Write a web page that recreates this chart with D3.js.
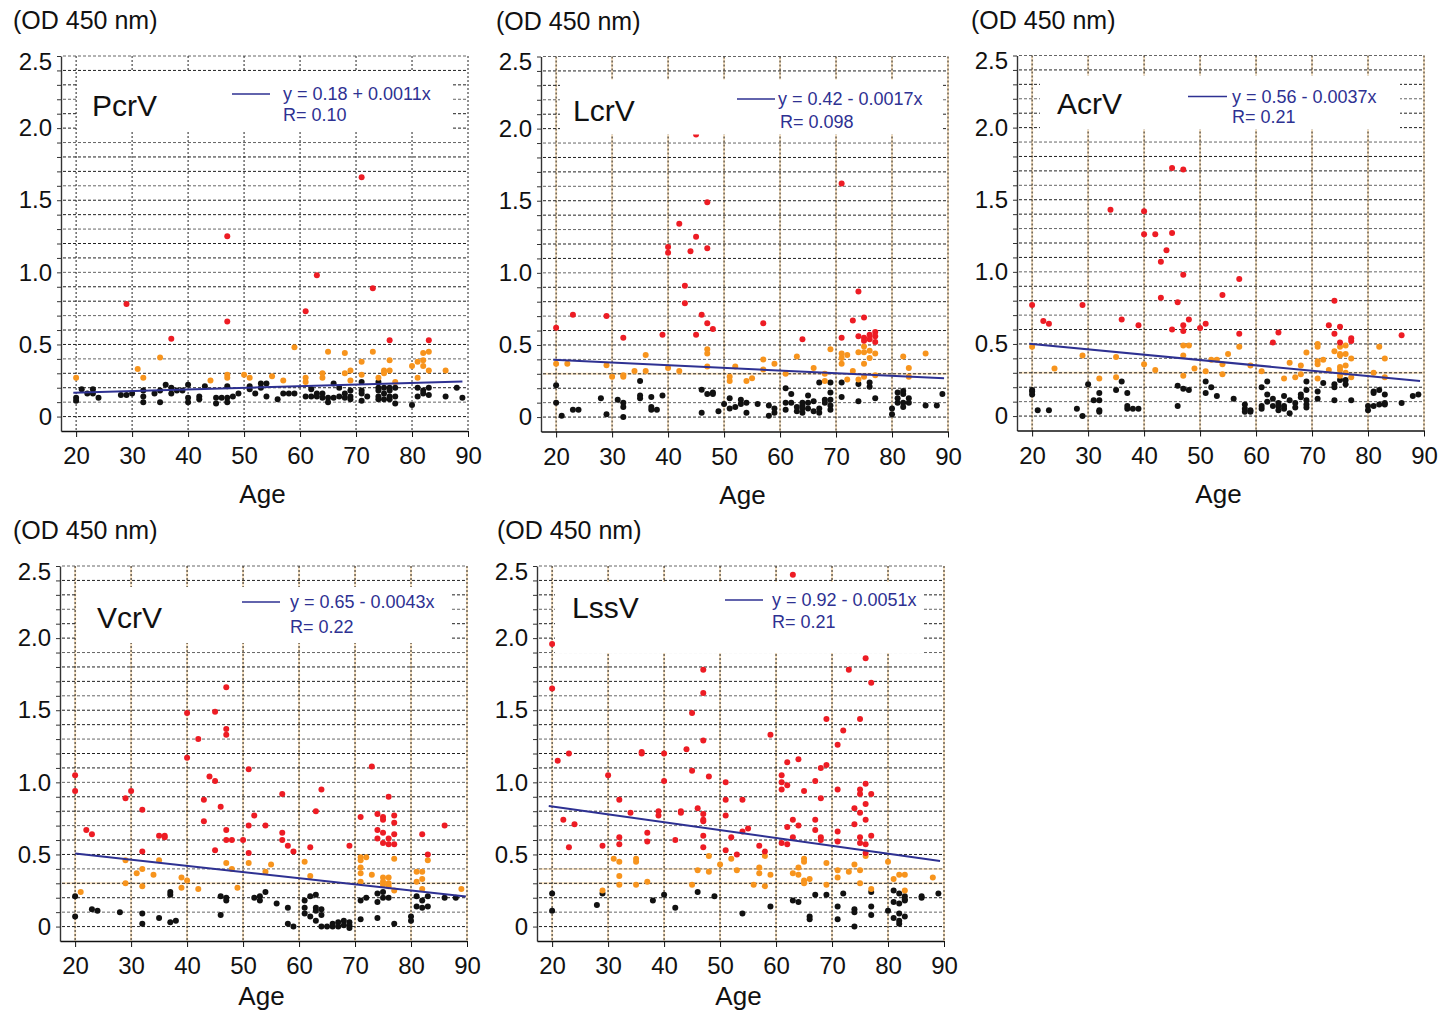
<!DOCTYPE html>
<html>
<head>
<meta charset="utf-8">
<script src="https://cdn.jsdelivr.net/npm/d3@7"></script>
<style>
  body { margin: 0; background: #fff; }
  text { font-family: "Liberation Sans", Arial, Helvetica, sans-serif; }
</style>
</head>
<body>
<svg id="chart" width="1449" height="1012"></svg>
<script>
// axis ticks
var ageTicks = [20, 30, 40, 50, 60, 70, 80, 90];
var odTicks = [0, 0.1, 0.2, 0.3, 0.4, 0.5, 0.6, 0.7, 0.8, 0.9, 1.0, 1.1, 1.2, 1.3, 1.4,
               1.5, 1.6, 1.7, 1.8, 1.9, 2.0, 2.1, 2.2, 2.3, 2.4, 2.5];
var odLabels = {0: '0', 0.5: '0.5', 1: '1.0', 1.5: '1.5', 2: '2.0', 2.5: '2.5'};

// PcrV  [age, OD]
var pcrvRed = [[29,0.78],[47,0.66],[37,0.54],[47,1.25],[71,1.66],[61,0.73],[63,0.98],[73,0.89],[76,0.53],[83,0.53]];
var pcrvOrange = [[20,0.27],[31,0.33],[32,0.27],[35,0.41],[44,0.25],[47,0.29],[47,0.27],[50,0.29],[51,0.27],[55,0.28],
  [57,0.25],[59,0.48],[61,0.27],[61,0.24],[64,0.30],[64,0.27],[65,0.45],[68,0.44],[68,0.30],[69,0.32],[69,0.25],
  [71,0.38],[71,0.29],[73,0.45],[74,0.27],[75,0.32],[75,0.30],[76,0.39],[76,0.32],[77,0.24],[80,0.35],[81,0.38],
  [81,0.27],[82,0.44],[82,0.39],[82,0.35],[83,0.45],[83,0.32],[86,0.32]];
var pcrvBlack = [[20,0.13],[20,0.11],[21,0.19],[22,0.16],[23,0.19],[23,0.16],[24,0.13],[28,0.15],[29,0.15],[30,0.16],
  [32,0.18],[32,0.14],[32,0.10],[34,0.16],[35,0.18],[35,0.10],[36,0.22],[37,0.20],[37,0.16],[38,0.18],[39,0.18],
  [40,0.22],[40,0.13],[40,0.10],[42,0.14],[42,0.12],[43,0.21],[45,0.13],[45,0.09],[46,0.13],[47,0.21],[47,0.13],
  [47,0.10],[48,0.14],[49,0.16],[51,0.21],[51,0.19],[52,0.16],[53,0.23],[53,0.20],[54,0.23],[54,0.14],[56,0.12],
  [57,0.16],[58,0.16],[59,0.16],[61,0.14],[62,0.19],[62,0.14],[63,0.16],[63,0.14],[64,0.16],[64,0.13],[65,0.13],
  [65,0.10],[66,0.23],[66,0.13],[67,0.20],[67,0.14],[68,0.16],[68,0.13],[69,0.18],[69,0.14],[69,0.12],[71,0.24],
  [71,0.18],[71,0.16],[71,0.11],[72,0.14],[74,0.24],[74,0.20],[74,0.18],[74,0.14],[74,0.12],[75,0.20],[75,0.16],
  [75,0.12],[76,0.20],[76,0.18],[76,0.14],[76,0.12],[77,0.20],[77,0.14],[77,0.09],[80,0.08],[81,0.20],[81,0.14],
  [82,0.18],[82,0.16],[83,0.20],[83,0.15],[86,0.14],[88,0.20],[89,0.13]];
var pcrvFit = [[19.5,0.165],[89,0.243]];

// LcrV
var lcrvRed = [[71,1.62],[47,1.49],[42,1.34],[45,1.25],[40,1.18],[40,1.14],[44,1.15],[47,1.17],[45,1.96],[43,0.91],
  [43,0.79],[29,0.70],[46,0.71],[47,0.65],[48,0.61],[57,0.65],[20,0.62],[23,0.71],[32,0.55],[39,0.57],[45,0.57],
  [64,0.54],[71,0.55],[73,0.67],[74,0.87],[74,0.56],[75,0.69],[75,0.55],[75,0.53],[76,0.57],[76,0.54],[77,0.59],
  [77,0.56],[77,0.52]];
var lcrvOrange = [[20,0.37],[22,0.37],[29,0.36],[30,0.28],[32,0.29],[32,0.28],[34,0.32],[36,0.43],[36,0.32],[40,0.34],
  [42,0.32],[47,0.47],[47,0.44],[47,0.35],[51,0.28],[51,0.25],[52,0.35],[54,0.25],[55,0.27],[57,0.40],[57,0.33],
  [59,0.37],[61,0.30],[63,0.42],[66,0.34],[68,0.30],[68,0.25],[69,0.47],[71,0.44],[71,0.41],[71,0.37],[72,0.43],
  [72,0.26],[73,0.32],[74,0.45],[74,0.26],[75,0.49],[75,0.45],[75,0.37],[75,0.28],[76,0.46],[76,0.41],[77,0.44],
  [77,0.29],[82,0.42],[83,0.34],[83,0.28],[86,0.44]];
var lcrvBlack = [[20,0.22],[20,0.10],[21,0.01],[23,0.05],[24,0.05],[28,0.13],[29,0.02],[31,0.12],[32,0.10],[32,0.07],
  [32,0.00],[35,0.25],[35,0.15],[35,0.13],[37,0.14],[37,0.07],[37,0.05],[38,0.05],[39,0.15],[46,0.19],[46,0.03],
  [47,0.16],[48,0.17],[48,0.16],[49,0.04],[50,0.09],[51,0.13],[51,0.06],[52,0.07],[53,0.12],[53,0.09],[54,0.10],
  [54,0.03],[56,0.09],[58,0.08],[58,0.01],[59,0.06],[59,0.03],[61,0.20],[61,0.10],[61,0.05],[62,0.16],[62,0.10],
  [63,0.07],[63,0.04],[64,0.10],[64,0.08],[64,0.06],[64,0.03],[65,0.15],[65,0.10],[65,0.06],[66,0.11],[66,0.04],
  [67,0.24],[67,0.06],[67,0.03],[68,0.12],[68,0.10],[69,0.24],[69,0.17],[69,0.12],[69,0.08],[69,0.05],[71,0.24],
  [71,0.14],[74,0.23],[74,0.11],[76,0.24],[76,0.21],[77,0.13],[80,0.06],[80,0.02],[81,0.17],[81,0.13],[81,0.10],
  [82,0.18],[82,0.16],[82,0.10],[82,0.07],[83,0.13],[83,0.10],[86,0.08],[88,0.08],[89,0.16]];
var lcrvFit = [[19.5,0.397],[89.3,0.269]];

// AcrV
var acrvRed = [[45,1.72],[47,1.71],[34,1.43],[40,1.42],[40,1.26],[42,1.26],[45,1.27],[44,1.15],[43,1.07],[43,0.82],
  [46,0.79],[47,0.98],[47,0.63],[47,0.59],[48,0.67],[45,0.60],[50,0.61],[51,0.64],[54,0.84],[57,0.95],[57,0.57],
  [63,0.51],[64,0.58],[73,0.63],[74,0.80],[74,0.57],[75,0.62],[75,0.51],[77,0.54],[77,0.52],[86,0.56],[20,0.77],
  [22,0.66],[23,0.64],[29,0.77],[36,0.67],[39,0.63]];
var acrvOrange = [[20,0.48],[24,0.33],[29,0.42],[32,0.26],[35,0.41],[35,0.27],[40,0.36],[42,0.32],[47,0.49],[47,0.42],
  [47,0.28],[48,0.49],[49,0.33],[51,0.31],[52,0.39],[53,0.39],[54,0.36],[54,0.29],[55,0.43],[57,0.48],[59,0.35],
  [61,0.31],[65,0.26],[66,0.37],[67,0.27],[68,0.35],[68,0.29],[69,0.44],[71,0.50],[71,0.48],[71,0.38],[71,0.36],
  [71,0.26],[72,0.39],[73,0.32],[74,0.45],[75,0.48],[75,0.43],[75,0.42],[75,0.34],[75,0.32],[75,0.28],[76,0.49],
  [76,0.43],[76,0.35],[76,0.30],[77,0.40],[77,0.27],[81,0.30],[82,0.48],[83,0.40],[83,0.27]];
var acrvBlack = [[20,0.18],[20,0.17],[20,0.15],[21,0.04],[23,0.04],[28,0.05],[29,0.00],[30,0.22],[31,0.11],[32,0.16],
  [32,0.11],[32,0.04],[32,0.03],[35,0.18],[36,0.24],[37,0.16],[37,0.07],[37,0.05],[38,0.05],[39,0.05],[46,0.21],
  [46,0.07],[47,0.19],[48,0.18],[51,0.24],[51,0.16],[52,0.20],[53,0.14],[56,0.12],[58,0.08],[58,0.05],[58,0.03],
  [59,0.04],[59,0.03],[61,0.20],[61,0.07],[61,0.05],[62,0.24],[62,0.15],[62,0.10],[63,0.12],[63,0.07],[64,0.09],
  [64,0.07],[64,0.04],[65,0.14],[65,0.07],[65,0.05],[66,0.11],[66,0.02],[67,0.09],[67,0.06],[68,0.15],[68,0.13],
  [69,0.24],[69,0.18],[69,0.11],[69,0.08],[69,0.06],[71,0.17],[71,0.12],[72,0.23],[74,0.22],[74,0.20],[74,0.11],
  [75,0.25],[76,0.25],[76,0.22],[77,0.11],[80,0.07],[80,0.04],[81,0.17],[81,0.16],[81,0.07],[82,0.18],[82,0.08],
  [83,0.15],[83,0.09],[83,0.08],[86,0.09],[88,0.14],[89,0.15]];
var acrvFit = [[19.5,0.502],[89.3,0.243]];

// VcrV
var vcrvRed = [[47,1.66],[40,1.48],[45,1.49],[47,1.37],[47,1.33],[42,1.30],[40,1.17],[73,1.11],[20,1.05],[20,0.94],
  [22,0.67],[23,0.64],[29,0.89],[30,0.94],[32,0.81],[32,0.52],[35,0.63],[36,0.63],[36,0.62],[43,0.88],[43,0.73],
  [44,1.04],[45,1.01],[45,0.53],[46,0.83],[47,0.67],[47,0.60],[48,0.60],[50,0.60],[51,1.09],[51,0.70],[51,0.51],
  [52,0.77],[54,0.70],[57,0.92],[57,0.65],[57,0.60],[58,0.56],[59,0.52],[62,0.55],[63,0.80],[64,0.95],[69,0.56],
  [71,0.76],[74,0.78],[74,0.67],[74,0.61],[75,0.76],[75,0.74],[75,0.65],[75,0.58],[76,0.90],[76,0.61],[76,0.57],
  [77,0.77],[77,0.72],[77,0.64],[77,0.57],[82,0.64],[83,0.50],[86,0.70]];
var vcrvOrange = [[21,0.24],[29,0.46],[29,0.30],[31,0.37],[32,0.40],[32,0.28],[34,0.36],[35,0.46],[39,0.34],[39,0.27],
  [40,0.32],[42,0.26],[47,0.44],[48,0.40],[49,0.27],[51,0.44],[55,0.43],[54,0.38],[61,0.45],[62,0.35],[71,0.48],
  [71,0.46],[71,0.41],[71,0.37],[71,0.31],[72,0.48],[73,0.36],[75,0.34],[75,0.31],[75,0.29],[76,0.34],[76,0.30],
  [76,0.28],[77,0.47],[77,0.25],[81,0.38],[81,0.31],[82,0.38],[82,0.33],[82,0.26],[83,0.46],[89,0.26]];
var vcrvBlack = [[20,0.21],[20,0.07],[23,0.12],[24,0.11],[28,0.10],[32,0.09],[32,0.02],[35,0.06],[37,0.24],[37,0.22],
  [37,0.03],[38,0.04],[46,0.21],[46,0.08],[47,0.20],[47,0.18],[52,0.20],[53,0.21],[53,0.18],[54,0.24],[56,0.16],
  [58,0.13],[58,0.02],[59,0.00],[61,0.18],[61,0.13],[61,0.09],[62,0.21],[62,0.07],[63,0.22],[63,0.13],[63,0.11],
  [63,0.04],[64,0.12],[64,0.08],[64,0.00],[65,0.00],[66,0.02],[66,0.00],[67,0.03],[67,0.00],[68,0.04],[68,0.01],
  [69,0.03],[69,0.01],[69,-0.01],[71,0.18],[71,0.05],[72,0.20],[74,0.23],[74,0.17],[74,0.06],[75,0.24],[75,0.20],
  [76,0.20],[77,0.02],[80,0.07],[80,0.04],[81,0.21],[81,0.14],[82,0.18],[82,0.13],[83,0.21],[83,0.14],[86,0.20],
  [88,0.20]];
var vcrvFit = [[20,0.506],[89.8,0.208]];

// LssV
var lssvRed = [[63,2.44],[20,1.96],[20,1.65],[47,1.78],[47,1.62],[45,1.48],[47,1.29],[76,1.86],[73,1.78],[77,1.69],
  [69,1.44],[75,1.44],[72,1.36],[59,1.33],[71,1.26],[44,1.23],[36,1.21],[36,1.20],[40,1.20],[23,1.20],[21,1.15],
  [62,1.14],[64,1.16],[69,1.12],[45,1.08],[30,1.05],[40,1.01],[48,1.04],[51,1.00],[61,1.05],[61,1.00],[61,0.95],
  [62,0.98],[67,1.01],[68,1.10],[65,0.94],[68,0.89],[71,0.95],[75,0.95],[75,0.92],[76,0.99],[76,0.85],[77,0.92],
  [51,0.88],[54,0.88],[32,0.88],[22,0.74],[24,0.71],[23,0.55],[29,0.56],[32,0.62],[32,0.57],[34,0.79],[37,0.65],
  [37,0.59],[39,0.80],[39,0.77],[42,0.60],[43,0.80],[43,0.79],[46,0.82],[47,0.78],[47,0.74],[47,0.73],[47,0.63],
  [47,0.55],[51,0.77],[51,0.53],[52,0.62],[53,0.50],[54,0.66],[55,0.68],[57,0.56],[58,0.52],[61,0.58],[62,0.69],
  [62,0.57],[63,0.74],[63,0.62],[64,0.70],[67,0.74],[67,0.67],[68,0.62],[68,0.60],[71,0.66],[71,0.59],[74,0.82],
  [74,0.71],[75,0.79],[75,0.62],[75,0.58],[76,0.74],[76,0.57],[76,0.51],[77,0.63]];
var lssvOrange = [[29,0.25],[31,0.47],[32,0.45],[32,0.35],[32,0.29],[35,0.47],[35,0.45],[35,0.29],[37,0.31],[45,0.29],
  [46,0.39],[48,0.49],[48,0.38],[50,0.43],[52,0.47],[53,0.39],[56,0.29],[57,0.41],[57,0.37],[58,0.49],[58,0.28],
  [59,0.36],[63,0.37],[64,0.41],[64,0.36],[65,0.47],[65,0.45],[65,0.32],[65,0.30],[66,0.33],[69,0.44],[69,0.29],
  [71,0.39],[71,0.34],[73,0.38],[74,0.43],[75,0.39],[75,0.30],[76,0.49],[77,0.26],[80,0.45],[81,0.33],[82,0.36],
  [83,0.36],[83,0.25],[88,0.34]];
var lssvBlack = [[20,0.23],[20,0.11],[28,0.15],[29,0.23],[38,0.18],[40,0.22],[42,0.13],[46,0.24],[49,0.21],[54,0.09],
  [59,0.14],[63,0.18],[64,0.17],[66,0.07],[66,0.05],[67,0.22],[69,0.22],[71,0.14],[71,0.05],[72,0.23],[74,0.12],
  [74,0.10],[74,0.00],[77,0.24],[77,0.14],[77,0.08],[80,0.11],[81,0.25],[81,0.17],[81,0.06],[82,0.23],[82,0.16],
  [82,0.09],[82,0.04],[82,0.02],[83,0.21],[83,0.19],[83,0.18],[83,0.07],[86,0.21],[86,0.20],[89,0.23]];
var lssvFit = [[19.4,0.836],[89.3,0.455]];

var panelNames = ['PcrV', 'LcrV', 'AcrV', 'VcrV', 'LssV'];
var equations = ['y = 0.18 + 0.0011x', 'y = 0.42 - 0.0017x', 'y = 0.56 - 0.0037x', 'y = 0.65 - 0.0043x', 'y = 0.92 - 0.0051x'];
var rValues = ['R= 0.10', 'R= 0.098', 'R= 0.21', 'R= 0.22', 'R= 0.21'];
var cutoffs = [[], [0.3], [0.3], [0.3], [0.3, 0.4]];

var colors = { red: '#ed1c24', orange: '#f7941d', black: '#111111', fit: '#2e3192', tan: '#f8e2c2' };

// layout of each panel (plot origin + legend box etc.)
var panels = [
  { left: 61,   top: 56,   odX: -48, ageY: 447, tan: false, box: [16, 16, 391, 74],
    label: [31, 60], line: [171, 209, 38], eq: [222, 44], r: [222, 65],
    red: pcrvRed, orange: pcrvOrange, black: pcrvBlack, fit: pcrvFit },
  { left: 541,  top: 56.5, odX: -45, ageY: 447, tan: true, box: [19, 23, 402, 78],
    label: [32, 64], line: [196, 234, 42.5], eq: [237, 48.5], r: [239, 71],
    red: lcrvRed, orange: lcrvOrange, black: lcrvBlack, fit: lcrvFit },
  { left: 1017, top: 55.5, odX: -46, ageY: 447, tan: true, box: [23, 20, 383, 74],
    label: [40, 58], line: [171, 210, 41], eq: [215, 47], r: [215, 67.5],
    red: acrvRed, orange: acrvOrange, black: acrvBlack, fit: acrvFit },
  { left: 60,   top: 566,  odX: -47, ageY: 439, tan: true, box: [17, 21, 392, 77],
    label: [37, 62], line: [182, 220, 36], eq: [230, 42], r: [230, 67],
    red: vcrvRed, orange: vcrvOrange, black: vcrvBlack, fit: vcrvFit },
  { left: 537,  top: 566,  odX: -40, ageY: 439, tan: true, box: [18, 16, 386, 87],
    label: [35, 51.5], line: [188, 226, 34], eq: [235, 40], r: [235, 62],
    red: lssvRed, orange: lssvOrange, black: lssvBlack, fit: lssvFit }
];

var W = 407, H = 375;
var x = d3.scaleLinear().domain([17.3, 90]).range([0, W]);
var y = d3.scaleLinear().domain([-0.1, 2.5]).range([H, 0]);

var svg = d3.select('#chart');

panels.forEach(function(p, i) {
  var g = svg.append('g').attr('transform', 'translate(' + p.left + ',' + p.top + ')');

  // tan underlays of the vertical grid
  if (p.tan) {
    g.selectAll('line.vtan').data(ageTicks).enter().append('line')
      .attr('class', 'vtan')
      .attr('x1', function(d) { return x(d); }).attr('x2', function(d) { return x(d); })
      .attr('y1', y(2.5)).attr('y2', y(-0.1))
      .attr('stroke', colors.tan).attr('stroke-width', 2);
  }
  g.selectAll('line.htan').data(cutoffs[i]).enter().append('line')
    .attr('class', 'htan')
    .attr('x1', 2).attr('x2', W)
    .attr('y1', function(d) { return y(d); }).attr('y2', function(d) { return y(d); })
    .attr('stroke', colors.tan).attr('stroke-width', 2);

  // horizontal dashed grid
  g.selectAll('line.hg').data(odTicks).enter().append('line')
    .attr('class', 'hg')
    .attr('x1', 2).attr('x2', W)
    .attr('y1', function(d) { return y(d); }).attr('y2', function(d) { return y(d); })
    .attr('stroke', function(d, k) { return k % 3 === 1 ? '#666' : '#222'; })
    .attr('stroke-width', 1)
    .attr('stroke-dasharray', '3,2');

  // vertical dashed grid
  g.selectAll('line.vg').data(ageTicks).enter().append('line')
    .attr('class', 'vg')
    .attr('x1', function(d) { return x(d); }).attr('x2', function(d) { return x(d); })
    .attr('y1', y(2.5)).attr('y2', y(-0.1))
    .attr('stroke', '#222').attr('stroke-width', 1)
    .attr('stroke-dasharray', '2,2');

  // dots
  [['black', p.black], ['orange', p.orange], ['red', p.red]].forEach(function(s) {
    g.selectAll('circle.' + s[0]).data(s[1]).enter().append('circle')
      .attr('class', s[0])
      .attr('cx', function(d) { return x(d[0]); })
      .attr('cy', function(d) { return y(d[1]); })
      .attr('r', 3)
      .attr('fill', colors[s[0]]);
  });

  // regression line
  g.append('line')
    .attr('x1', x(p.fit[0][0])).attr('y1', y(p.fit[0][1]))
    .attr('x2', x(p.fit[1][0])).attr('y2', y(p.fit[1][1]))
    .attr('stroke', colors.fit).attr('stroke-width', 2);

  // legend box
  g.append('rect')
    .attr('x', p.box[0]).attr('y', p.box[1])
    .attr('width', p.box[2] - p.box[0]).attr('height', p.box[3] - p.box[1])
    .attr('fill', '#fff');
  g.append('text')
    .attr('x', p.label[0]).attr('y', p.label[1])
    .style('font-size', '30px').attr('fill', '#111')
    .text(panelNames[i]);
  g.append('line')
    .attr('x1', p.line[0]).attr('x2', p.line[1])
    .attr('y1', p.line[2]).attr('y2', p.line[2])
    .attr('stroke', colors.fit).attr('stroke-width', 1.6);
  g.append('text')
    .attr('x', p.eq[0]).attr('y', p.eq[1])
    .style('font-size', '18px').attr('fill', colors.fit)
    .text(equations[i]);
  g.append('text')
    .attr('x', p.r[0]).attr('y', p.r[1])
    .style('font-size', '18px').attr('fill', colors.fit)
    .text(rValues[i]);

  // axes
  var yAxis = g.append('g')
    .call(d3.axisLeft(y).tickValues(odTicks).tickSize(4).tickSizeOuter(0).tickPadding(5)
      .tickFormat(function(d) {
        var key = Math.round(d * 10) / 10;
        return odLabels[key] !== undefined ? odLabels[key] : '';
      }));
  yAxis.select('.domain').attr('stroke', '#333').attr('stroke-width', 1.4);
  yAxis.selectAll('line').attr('stroke', '#333');
  yAxis.selectAll('text').style('font-size', '24px').attr('fill', '#111')
    .attr('font-family', '"Liberation Sans", Arial, sans-serif');
  yAxis.selectAll('.tick').filter(function(d) { return d === 2.5; })
    .select('text').attr('dy', '0.55em');

  var xAxis = g.append('g').attr('transform', 'translate(0,' + H + ')')
    .call(d3.axisBottom(x).tickValues(ageTicks).tickSize(6).tickSizeOuter(0).tickPadding(10));
  xAxis.select('.domain').attr('stroke', '#111').attr('stroke-width', 1.4);
  xAxis.selectAll('line').attr('stroke', '#111');
  xAxis.selectAll('text').style('font-size', '24px').attr('fill', '#111')
    .attr('font-family', '"Liberation Sans", Arial, sans-serif');

  g.append('text')
    .attr('x', W / 2 - 2).attr('y', p.ageY)
    .attr('text-anchor', 'middle')
    .style('font-size', '26px').attr('fill', '#111')
    .text('Age');

  g.append('text')
    .attr('x', p.odX).attr('y', -27)
    .style('font-size', '25px').attr('fill', '#111')
    .text('(OD 450 nm)');
});
</script>
</body>
</html>
